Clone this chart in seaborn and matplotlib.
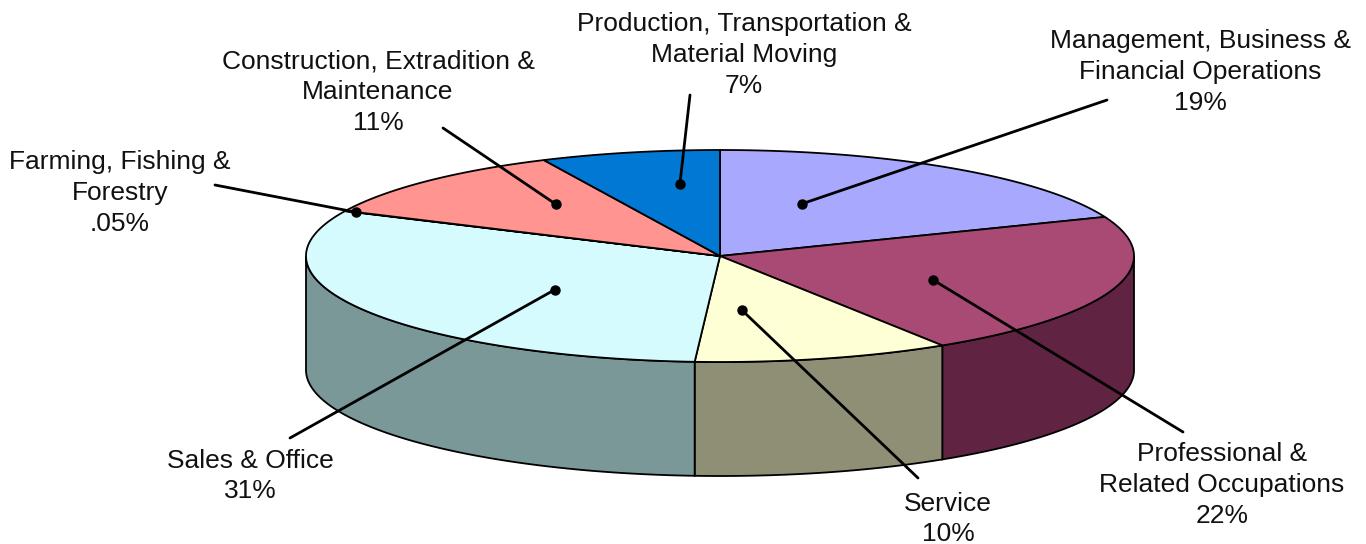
import numpy as np
import matplotlib
matplotlib.use("Agg")
import matplotlib.pyplot as plt
import seaborn as sns

sns.set_theme(style="white")
plt.rcParams['font.family'] = ['Liberation Sans', 'DejaVu Sans']

# data, clockwise from 12 o'clock
categories = ["Management, Business &\nFinancial Operations",
              "Professional &\nRelated Occupations",
              "Service",
              "Sales & Office",
              "Farming, Fishing &\nForestry",
              "Construction, Extradition &\nMaintenance",
              "Production, Transportation &\nMaterial Moving"]
shares = [19, 22, 10, 31, 0.05, 11, 7]
pct_labels = ["19%", "22%", "10%", "31%", ".05%", "11%", "7%"]

top_colors = sns.color_palette(["#A8A8FF", "#A94A74", "#FFFFD6", "#D6FBFF",
                                "#C8F0C8", "#FF9490", "#0078D4"])
side_colors = sns.color_palette(["#54548A", "#602442", "#8F8F76", "#7A9898",
                                 "#6A886A", "#8A4A48", "#004080"])

# layout (pixel space)
cx, cy, a, b, depth = 720, 256, 414, 106, 114
label_pos = [(1200, 72), (1222, 485), (948, 519), (250, 476),
             (120, 193), (378, 92), (744, 55)]
leader_start = [(1107, 100), (1183, 432), (918, 478), (290, 438),
                (215, 185), (443, 128), (690, 95)]
dot_frac = [0.32, 0.57, 0.74, 0.43, 0.5, 0.65, 0.68]
dot_rad = [0.53, 0.56, 0.51, 0.51, 0.97, 0.63, 0.69]


def ell(theta_deg, r=1.0, dy=0.0):
    t = np.radians(theta_deg)
    return cx + r * a * np.cos(t), cy - r * b * np.sin(t) + dy


fig = plt.figure(figsize=(13.66, 5.44), dpi=100)
ax = fig.add_axes([0, 0, 1, 1])
ax.set_xlim(0, 1366)
ax.set_ylim(544, 0)
ax.axis("off")

total = sum(shares)
extents = [s / total * 360 for s in shares]
starts = 90 - np.concatenate([[0], np.cumsum(extents)[:-1]])
ends = starts - np.array(extents)

# side walls (only the front half, angles between -180 and 0)
for st, en, col in zip(starts, ends, side_colors):
    hi, lo = min(st, 0), max(en, -180)
    if hi <= lo:
        continue
    th = np.linspace(lo, hi, 120)
    xt, yt = ell(th)
    xb, yb = ell(th[::-1], dy=depth)
    ax.fill(np.r_[xt, xb], np.r_[yt, yb], color=col, ec="black", lw=1.3, zorder=1)

# top face
for st, en, col in zip(starts, ends, top_colors):
    th = np.linspace(st, en, max(3, int(abs(st - en) * 2)))
    xs, ys = ell(th)
    ax.fill(np.r_[cx, xs], np.r_[cy, ys], color=col, ec="black", lw=1.3, zorder=2)

# labels, leaders and dots
for i, (cat, pct) in enumerate(zip(categories, pct_labels)):
    ang = starts[i] - dot_frac[i] * extents[i]
    dx, dy = ell(ang, r=dot_rad[i])
    sx, sy = leader_start[i]
    ax.plot([sx, dx], [sy, dy], color="black", lw=2, zorder=3)
    ax.plot(dx, dy, "o", color="black", ms=6.5, zorder=4)
    lx, ly = label_pos[i]
    ax.text(lx, ly, cat + "\n" + pct, ha="center", va="center",
            fontsize=19, linespacing=1.36, color="#111111", zorder=5)

plt.savefig("out.png", dpi=100)
